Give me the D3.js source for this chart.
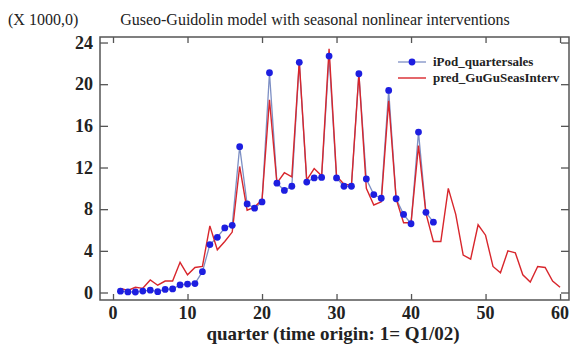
<!DOCTYPE html>
<html>
<head>
<meta charset="utf-8">
<script src="https://cdn.jsdelivr.net/npm/d3@7"></script>
<style>
body { margin: 0; background: #fff; }
text { font-family: "Liberation Serif", "DejaVu Serif", serif; }
</style>
</head>
<body>
<div id="chart"></div>
<script>
var width = 575, height = 347;
var margin = {top: 37, right: 6, bottom: 47, left: 100};

// observed quarterly sales (thousands), quarters 1..43
var sales = [0.13, 0.06, 0.05, 0.14, 0.22, 0.08, 0.3, 0.34, 0.73, 0.81, 0.86, 2.0,
  4.6, 5.3, 6.2, 6.45, 14.0, 8.5, 8.1, 8.7, 21.1, 10.5, 9.8, 10.2,
  22.1, 10.6, 11.0, 11.05, 22.7, 11.0, 10.2, 10.2, 21.0, 10.9, 9.4, 9.05,
  19.4, 9.0, 7.5, 6.6, 15.4, 7.7, 6.75];

// fitted model, quarters 1..60
var pred = [0.4, 0.2, 0.5, 0.4, 1.2, 0.7, 1.1, 1.1, 2.9, 1.7, 2.4, 2.5,
  6.4, 4.1, 4.9, 5.8, 12.1, 7.9, 8.2, 8.9, 18.5, 10.5, 11.5, 11.1,
  22.2, 10.8, 11.9, 11.2, 23.4, 11.2, 10.4, 10.3, 21.0, 10.0, 8.4, 8.7,
  18.4, 9.0, 6.7, 6.7, 14.1, 7.6, 4.9, 4.9, 10.0, 7.5, 3.6, 3.2,
  6.5, 5.5, 2.5, 1.9, 4.0, 3.8, 1.7, 1.0, 2.5, 2.4, 1.1, 0.5];

var xTicks = [0, 10, 20, 30, 40, 50, 60];
var yTicks = [0, 4, 8, 12, 16, 20, 24];

var svg = d3.select("#chart").append("svg")
  .attr("width", width).attr("height", height);

var x = d3.scaleLinear().domain([-1.745, 61.2])
  .range([margin.left, width - margin.right]);
var y = d3.scaleLinear().domain([-0.72, 24.53])
  .range([height - margin.bottom, margin.top]);

var x0 = margin.left, x1 = width - margin.right;
var y0 = height - margin.bottom, y1 = margin.top;

// frame
svg.append("rect")
  .attr("x", x0).attr("y", y1)
  .attr("width", x1 - x0).attr("height", y0 - y1)
  .attr("fill", "none").attr("stroke", "#555").attr("stroke-width", 1.5);

// axes with inward ticks
svg.append("g").attr("transform", "translate(0," + y0 + ")")
  .call(d3.axisTop(x).tickValues(xTicks).tickSize(6).tickFormat(""))
  .call(g => g.select(".domain").remove());
svg.append("g").attr("transform", "translate(0," + y1 + ")")
  .call(d3.axisBottom(x).tickValues(xTicks).tickSize(6).tickFormat(""))
  .call(g => g.select(".domain").remove());
svg.append("g").attr("transform", "translate(" + x0 + ",0)")
  .call(d3.axisRight(y).tickValues(yTicks).tickSize(8).tickFormat(""))
  .call(g => g.select(".domain").remove());
svg.append("g").attr("transform", "translate(" + x1 + ",0)")
  .call(d3.axisLeft(y).tickValues(yTicks).tickSize(8).tickFormat(""))
  .call(g => g.select(".domain").remove());
svg.selectAll(".tick line").attr("stroke", "#555").attr("stroke-width", 1.3);

// tick labels
svg.selectAll(".xlab").data(xTicks).enter().append("text")
  .attr("x", d => x(d)).attr("y", y0 + 19)
  .attr("text-anchor", "middle")
  .style("font-size", "18px").style("font-weight", "bold").attr("fill", "#222")
  .text(d => d);
svg.selectAll(".ylab").data(yTicks).enter().append("text")
  .attr("x", 93).attr("y", d => y(d) + 6)
  .attr("text-anchor", "end")
  .style("font-size", "18px").style("font-weight", "bold").attr("fill", "#222")
  .text(d => d);

svg.append("text").attr("x", 333).attr("y", 340)
  .attr("text-anchor", "middle")
  .style("font-size", "19px").style("font-weight", "bold").attr("fill", "#222")
  .text("quarter (time origin: 1= Q1/02)");

svg.append("text").attr("x", 8).attr("y", 25)
  .style("font-size", "16px").attr("fill", "#222")
  .text("(X 1000,0)");
svg.append("text").attr("x", 315).attr("y", 25)
  .attr("text-anchor", "middle")
  .style("font-size", "16px").attr("fill", "#222")
  .text("Guseo-Guidolin model with seasonal nonlinear interventions");

// series
var line = d3.line().x((d, i) => x(i + 1)).y(d => y(d));

svg.append("path").datum(sales)
  .attr("d", line).attr("fill", "none")
  .attr("stroke", "#7d8fc4").attr("stroke-width", 1.3);

svg.append("path").datum(pred)
  .attr("d", line).attr("fill", "none")
  .attr("stroke", "#d8262c").attr("stroke-width", 1.4);

svg.selectAll(".dot").data(sales).enter().append("circle")
  .attr("cx", (d, i) => x(i + 1)).attr("cy", d => y(d))
  .attr("r", 3.4).attr("fill", "#1d1ee0");

// legend
var lg = svg.append("g");
lg.append("line").attr("x1", 398).attr("x2", 426).attr("y1", 62).attr("y2", 62)
  .attr("stroke", "#7d8fc4").attr("stroke-width", 1.3);
lg.append("circle").attr("cx", 412).attr("cy", 62).attr("r", 3.4).attr("fill", "#1d1ee0");
lg.append("line").attr("x1", 398).attr("x2", 426).attr("y1", 78).attr("y2", 78)
  .attr("stroke", "#d8262c").attr("stroke-width", 1.4);
lg.append("text").attr("x", 433).attr("y", 66)
  .style("font-size", "13px").style("font-weight", "bold").attr("fill", "#222")
  .text("iPod_quartersales");
lg.append("text").attr("x", 433).attr("y", 82)
  .style("font-size", "13px").style("font-weight", "bold").attr("fill", "#222")
  .text("pred_GuGuSeasInterv");
</script>
</body>
</html>
